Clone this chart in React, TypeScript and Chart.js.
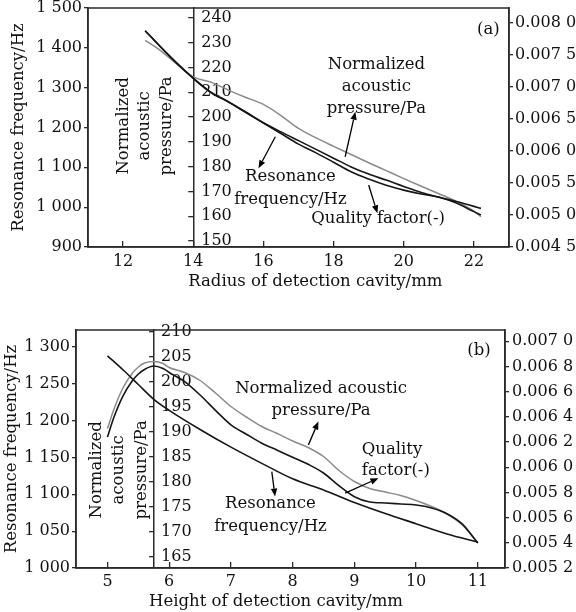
import React, { useEffect, useRef } from "react";
import { Chart, registerables } from "chart.js";

Chart.register(...registerables);

const FONT = "'DejaVu Serif', 'Liberation Serif', serif";
const DARK = "#161616";
const GRAY = "#8a8a8a";
const AXIS = "#2a2a2a";
const TEXT = "#111111";

// ---------- Panel (a): radius of detection cavity ----------
const radiusMm = [12.63, 13, 13.5, 14, 14.5, 15, 15.5, 16, 16.5, 17, 17.5, 18, 18.5, 19, 19.5, 20, 20.5, 21, 21.5, 22, 22.2];
const resonanceA = [1443, 1409, 1365, 1324, 1289, 1265, 1239, 1212, 1189, 1167, 1145, 1123, 1101, 1083, 1068, 1052, 1037, 1025, 1014, 1002, 997];
const pressureA = [230.9, 227.5, 221.8, 216.2, 214.1, 210.9, 207.9, 205.1, 200.6, 195.4, 191.6, 188.2, 184.9, 181.6, 178.4, 175.2, 172.1, 169.1, 166.0, 162.1, 159.8];
const qualityA = [0.007876, 0.00766, 0.007379, 0.00713, 0.006911, 0.006763, 0.006599, 0.006435, 0.006271, 0.006106, 0.005969, 0.005823, 0.005674, 0.00556, 0.005463, 0.005388, 0.005326, 0.00528, 0.005185, 0.005052, 0.004999];

const xTicksA = [12, 14, 16, 18, 20, 22];
const leftTicksA = [900, 1000, 1100, 1200, 1300, 1400, 1500];
const innerTicksA = [150, 160, 170, 180, 190, 200, 210, 220, 230, 240];
const rightTicksA = [0.0045, 0.005, 0.0055, 0.006, 0.0065, 0.007, 0.0075, 0.008];

// ---------- Panel (b): height of detection cavity ----------
const heightResMm = [5, 5.25, 5.5, 5.75, 6, 6.5, 7, 7.5, 8, 8.5, 9, 9.5, 10, 10.5, 11];
const resonanceB = [1288, 1269, 1249, 1229, 1214, 1188, 1164, 1142, 1121, 1106, 1089, 1074, 1060, 1046, 1035];
const heightMm = [5.0, 5.1, 5.25, 5.4, 5.5, 5.6, 5.75, 5.9, 6.0, 6.25, 6.5, 6.75, 7.0, 7.25, 7.5, 7.75, 8.0, 8.25, 8.5, 8.75, 9.0, 9.25, 9.5, 9.75, 10.0, 10.25, 10.5, 10.75, 11.0];
const pressureB = [190.7, 194.4, 198.8, 201.7, 203.0, 203.8, 204.1, 203.7, 202.9, 201.9, 200.3, 197.8, 195.1, 193.0, 191.1, 189.7, 188.2, 186.9, 185.1, 182.3, 180.1, 178.7, 178.0, 177.3, 176.3, 175.1, 173.6, 171.4, 167.8];
const qualityB = [0.00624, 0.006391, 0.006565, 0.006684, 0.00674, 0.006776, 0.006803, 0.006783, 0.006752, 0.006679, 0.006573, 0.006451, 0.006336, 0.006262, 0.00619, 0.006135, 0.006079, 0.006023, 0.005954, 0.005853, 0.005766, 0.005724, 0.005716, 0.005708, 0.0057, 0.005677, 0.005631, 0.005548, 0.005398];

const xTicksB = [5, 6, 7, 8, 9, 10, 11];
const leftTicksB = [1000, 1050, 1100, 1150, 1200, 1250, 1300];
const innerTicksB = [165, 170, 175, 180, 185, 190, 195, 200, 205, 210];
const rightTicksB = [0.0052, 0.0054, 0.0056, 0.0058, 0.006, 0.0062, 0.0064, 0.0066, 0.0068, 0.007];

const fmtThousands = (v: number) => {
  const s = String(Math.round(v));
  return s.length > 3 ? s.slice(0, s.length - 3) + " " + s.slice(s.length - 3) : s;
};
const fmtSmall = (v: number) => {
  const s = v.toFixed(4);
  return s.slice(0, 5) + " " + s.slice(5);
};

type Note = { lines: string[]; x: number; y: number; align?: CanvasTextAlign; gap?: number; rotate?: boolean };
type Arrow = { x1: number; y1: number; x2: number; y2: number };

const panelA = {
  id: "a",
  resX: radiusMm, res: resonanceA, qX: radiusMm, q: qualityA, pX: radiusMm, p: pressureA,
  xMin: 11, xMax: 23, xTicks: xTicksA,
  lMin: 900, lMax: 1500, lTicks: leftTicksA,
  iMin: 147.6, iMax: 244, iTicks: innerTicksA,
  rMin: 0.0045, rMax: 0.00823, rTicks: rightTicksA,
  innerAt: 14,
  padTop: 8, leftW: 88, rightW: 67, xH: 59, titlePad: 9, xPad: 11, innerPad: 8, rightPad: 2,
  notes: [
    { lines: ["(a)"], x: 22.41, y: 1445 },
    { lines: ["Normalized", "acoustic", "pressure/Pa"], x: 19.22, y: 1357, gap: 21.7 },
    { lines: ["Resonance", "frequency/Hz"], x: 16.77, y: 1076.5, gap: 23 },
    { lines: ["Quality factor(-)"], x: 19.27, y: 972 },
    { lines: ["Normalized", "acoustic", "pressure/Pa"], x: 12.63, y: 1204, gap: 21.7, rotate: true },
    { lines: ["Radius of detection cavity/mm"], x: 17.48, y: 812 },
  ] as Note[],
  arrows: [
    { x1: 18.33, y1: 1126.6, x2: 18.62, y2: 1239.6 },
    { x1: 16.34, y1: 1176.9, x2: 15.86, y2: 1097.5 },
    { x1: 19.0, y1: 1055.6, x2: 19.25, y2: 984.6 },
  ] as Arrow[],
};

const panelB = {
  id: "b",
  resX: heightResMm, res: resonanceB, qX: heightMm, q: qualityB, pX: heightMm, p: pressureB,
  xMin: 4.49, xMax: 11.44, xTicks: xTicksB,
  lMin: 1000, lMax: 1323, lTicks: leftTicksB,
  iMin: 162.8, iMax: 210.4, iTicks: innerTicksB,
  rMin: 0.0052, rMax: 0.007089, rTicks: rightTicksB,
  innerAt: 5.755,
  padTop: 24, leftW: 76, rightW: 71, xH: 44, titlePad: 1.6, xPad: 10, innerPad: 7, rightPad: 3,
  notes: [
    { lines: ["(b)"], x: 11.02, y: 1295.2 },
    { lines: ["Normalized acoustic", "pressure/Pa"], x: 8.46, y: 1242.8, gap: 21.4 },
    { lines: ["Quality", "factor(-)"], x: 9.12, y: 1160.3, gap: 20.7, align: "left" },
    { lines: ["Resonance", "frequency/Hz"], x: 7.64, y: 1087, gap: 22.7 },
    { lines: ["Normalized", "acoustic", "pressure/Pa"], x: 5.19, y: 1133.2, gap: 22.5, rotate: true },
    { lines: ["Height of detection cavity/mm"], x: 7.73, y: 954.2 },
  ] as Note[],
  arrows: [
    { x1: 8.255, y1: 1167.1, x2: 8.417, y2: 1198.8 },
    { x1: 8.85, y1: 1101.5, x2: 9.389, y2: 1121.9 },
    { x1: 7.662, y1: 1130.8, x2: 7.715, y2: 1096.9 },
  ] as Arrow[],
};

type Panel = typeof panelA;

function decorPlugin(p: Panel) {
  return {
    id: "decor" + p.id,
    afterLayout(chart: any) {
      const inner = chart.scales.yIn;
      const px = chart.scales.x.getPixelForValue(p.innerAt);
      inner.left = px;
      inner.right = px;
    },
    afterDraw(chart: any) {
      const ctx: CanvasRenderingContext2D = chart.ctx;
      const xs = chart.scales.x;
      const ys = chart.scales.y;
      const { left, top, right, bottom } = chart.chartArea;
      ctx.save();
      ctx.strokeStyle = AXIS;
      ctx.lineWidth = 1.5;
      ctx.strokeRect(left, top, right - left, bottom - top);

      ctx.fillStyle = TEXT;
      ctx.font = `16.5px ${FONT}`;
      ctx.textBaseline = "middle";
      for (const n of p.notes) {
        const px = xs.getPixelForValue(n.x);
        const py = ys.getPixelForValue(n.y);
        const gap = n.gap || 21;
        if (n.rotate) {
          ctx.save();
          ctx.translate(px, py);
          ctx.rotate(-Math.PI / 2);
          ctx.textAlign = "center";
          n.lines.forEach((t, i) => {
            ctx.fillText(t, 0, (i - (n.lines.length - 1) / 2) * gap);
          });
          ctx.restore();
        } else {
          ctx.textAlign = n.align || "center";
          n.lines.forEach((t, i) => ctx.fillText(t, px, py + i * gap));
        }
      }

      ctx.strokeStyle = "#000";
      ctx.fillStyle = "#000";
      ctx.lineWidth = 1.3;
      for (const a of p.arrows) {
        const x1 = xs.getPixelForValue(a.x1);
        const y1 = ys.getPixelForValue(a.y1);
        const x2 = xs.getPixelForValue(a.x2);
        const y2 = ys.getPixelForValue(a.y2);
        const ang = Math.atan2(y2 - y1, x2 - x1);
        const hl = 8, hw = 3.2;
        const bx = x2 - hl * Math.cos(ang);
        const by = y2 - hl * Math.sin(ang);
        ctx.beginPath();
        ctx.moveTo(x1, y1);
        ctx.lineTo(bx, by);
        ctx.stroke();
        ctx.beginPath();
        ctx.moveTo(x2, y2);
        ctx.lineTo(bx + hw * Math.sin(ang), by - hw * Math.cos(ang));
        ctx.lineTo(bx - hw * Math.sin(ang), by + hw * Math.cos(ang));
        ctx.closePath();
        ctx.fill();
      }
      ctx.restore();
    },
  };
}

function makeConfig(p: Panel): any {
  const tickFont = { family: FONT, size: 16 };
  const setTicks = (vals: number[]) => (s: any) => {
    s.ticks = vals.map((v) => ({ value: v }));
  };
  const pts = (xs: number[], ys: number[]) => xs.map((x, i) => ({ x, y: ys[i] }));
  return {
    type: "line",
    data: {
      datasets: [
        { label: "Resonance frequency/Hz", data: pts(p.resX, p.res), yAxisID: "y", borderColor: DARK, borderWidth: 1.6 },
        { label: "Quality factor(-)", data: pts(p.qX, p.q), yAxisID: "yR", borderColor: DARK, borderWidth: 1.6 },
        { label: "Normalized acoustic pressure/Pa", data: pts(p.pX, p.p), yAxisID: "yIn", borderColor: GRAY, borderWidth: 1.5 },
      ],
    },
    options: {
      responsive: false,
      animation: false,
      layout: { padding: { top: p.padTop, left: 0, right: 0, bottom: 0 } },
      elements: {
        point: { radius: 0, hoverRadius: 0 },
        line: { cubicInterpolationMode: "monotone", fill: false },
      },
      plugins: { legend: { display: false }, tooltip: { enabled: false } },
      events: [],
      scales: {
        x: {
          type: "linear",
          position: "bottom",
          min: p.xMin,
          max: p.xMax,
          afterBuildTicks: setTicks(p.xTicks),
          afterFit: (s: any) => { s.height = p.xH; s.paddingLeft = 0; s.paddingRight = 0; },
          grid: { drawOnChartArea: false, tickLength: -6, color: AXIS, lineWidth: 1.3 },
          border: { color: AXIS, width: 1.5 },
          ticks: { font: tickFont, color: TEXT, padding: p.xPad, maxRotation: 0, autoSkip: false, callback: (v: number) => String(v) },
        },
        y: {
          type: "linear",
          position: "left",
          min: p.lMin,
          max: p.lMax,
          afterBuildTicks: setTicks(p.lTicks),
          afterFit: (s: any) => { s.width = p.leftW; s.paddingTop = 0; s.paddingBottom = 0; },
          grid: { drawOnChartArea: false, tickLength: 4, color: AXIS, lineWidth: 1.3 },
          border: { color: AXIS, width: 1.5 },
          ticks: { font: tickFont, color: TEXT, padding: 2, autoSkip: false, callback: (v: number) => fmtThousands(v) },
          title: {
            display: true,
            text: "Resonance frequency/Hz",
            color: TEXT,
            font: { family: FONT, size: 16.5 },
            padding: { top: p.titlePad, bottom: 0 },
          },
        },
        yIn: {
          type: "linear",
          position: "left",
          min: p.iMin,
          max: p.iMax,
          afterBuildTicks: setTicks(p.iTicks),
          afterFit: (s: any) => { s.width = 0; s.paddingTop = 0; s.paddingBottom = 0; },
          grid: { drawOnChartArea: false, tickLength: 5, color: AXIS, lineWidth: 1.3 },
          border: { color: AXIS, width: 1.5 },
          ticks: { font: tickFont, color: TEXT, mirror: true, padding: p.innerPad, autoSkip: false, callback: (v: number) => String(v) },
        },
        yR: {
          type: "linear",
          position: "right",
          min: p.rMin,
          max: p.rMax,
          afterBuildTicks: setTicks(p.rTicks),
          afterFit: (s: any) => { s.width = p.rightW; s.paddingTop = 0; s.paddingBottom = 0; },
          grid: { drawOnChartArea: false, tickLength: 4, color: AXIS, lineWidth: 1.3 },
          border: { color: AXIS, width: 1.5 },
          ticks: { font: tickFont, color: TEXT, padding: p.rightPad, autoSkip: false, callback: (v: number) => fmtSmall(v) },
        },
      },
    },
    plugins: [decorPlugin(p)],
  };
}

export default function App() {
  const refA = useRef<HTMLCanvasElement>(null);
  const refB = useRef<HTMLCanvasElement>(null);
  useEffect(() => {
    const a = new Chart(refA.current as HTMLCanvasElement, makeConfig(panelA));
    const b = new Chart(refB.current as HTMLCanvasElement, makeConfig(panelB));
    return () => {
      a.destroy();
      b.destroy();
    };
  }, []);
  return (
    <div style={{ position: "absolute", left: 0, top: 0, width: 576, height: 612, background: "#fff" }}>
      <canvas ref={refA} width={576} height={306} style={{ position: "absolute", left: 0, top: 0, width: 576, height: 306 }} />
      <canvas ref={refB} width={576} height={306} style={{ position: "absolute", left: 0, top: 306, width: 576, height: 306 }} />
    </div>
  );
}
